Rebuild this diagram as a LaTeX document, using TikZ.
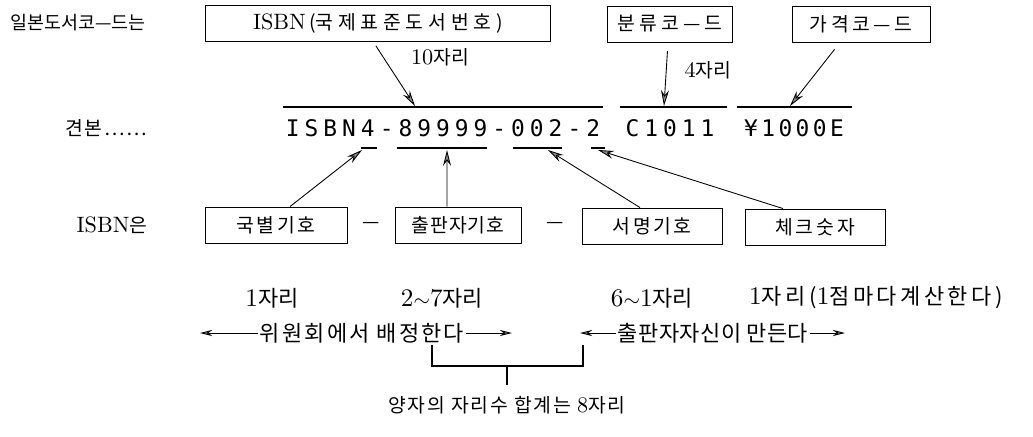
\documentclass[tikz,border=0pt]{standalone}
\usepackage{fontspec}
\newfontfamily\kr{Noto Sans CJK KR}
\newfontfamily\lmr[Scale=1.15]{lmroman10-regular.otf}
\newfontfamily\ocr[LetterSpace=22]{DejaVu Sans Mono}
\usetikzlibrary{arrows.meta}
\newcommand\lm[1]{{\lmr #1}}

\begin{document}
\begin{tikzpicture}[x=0.02cm, y=-0.02cm,
  lbl/.style={font=\kr\fontsize{11}{13}\selectfont, inner sep=1pt},
  wide/.style={font=\kr\fontsize{11}{13}\selectfont\addfontfeatures{LetterSpace=#1}},
  big/.style={font=\kr\fontsize{12.5}{15}\selectfont\addfontfeatures{LetterSpace=#1}, inner sep=1pt},
  kbox/.style={lbl, draw, line width=0.5pt, minimum height=0.72cm},
  code/.style={font=\ocr\fontsize{13}{15}\selectfont, inner sep=0pt},
  arr/.style={line width=0.5pt, -{Stealth[length=9pt, width=4.5pt, fill=black!45]}},
  sarr/.style={line width=0.5pt, -{Stealth[length=7pt, width=3.5pt, fill=black!45]}},
  rule/.style={line width=0.6pt}]
\useasboundingbox (0,0) rectangle (1033,436);

% top row
\node[lbl, font=\kr\fontsize{10.5}{13}\selectfont] (lead) at (78,23) {일본도서코—드는};
\node[kbox, minimum width=6.9cm] (isbnbox) at (378,23) {\lm{ISBN}\,(\addfontfeatures{LetterSpace=25}국제표준도서번호)};
\node[kbox, minimum width=2.5cm, wide=22] (class) at (670,24) {분류코—드};
\node[kbox, minimum width=2.76cm, wide=18] (price) at (861,24) {가격코—드};
\node[lbl] (ten) at (440,57) {\lm{10}자리};
\node[lbl] (four) at (708,70) {\lm{4}자리};

% sample code
\node[lbl, wide=8] (sample) at (106,128) {견본……};
\node[code] (isbncode) at (443,128) {ISBN4-89999-002-2};
\node[code] (classcode) at (670,128) {C1011};
\node[code, font=\ocr\fontsize{13}{15}\selectfont\addfontfeatures{LetterSpace=15}] (pricecode) at (794,128) {¥1000E};
\draw[rule] (283,107) -- (603,107);
\draw[rule] (620,107) -- (727,107);
\draw[rule] (737,107) -- (852,107);
\foreach \a/\b in {361/377, 397/487, 513/562, 591/605}
  \draw[rule] (\a,148) -- (\b,148);
\coordinate (isbnhit) at (415,106);
\coordinate (classhit) at (664,106);
\coordinate (pricehit) at (790,106);
\draw[arr, shorten <=3pt] ([xshift=-0.1cm]isbnbox.south) -- (isbnhit);
\draw[arr, shorten <=5pt] ([xshift=-0.04cm]class.south) -- (classhit);
\draw[arr, shorten <=5pt] ([xshift=-0.42cm]price.south) -- (pricehit);

% parts of the ISBN
\node[lbl] (isbnis) at (112,225) {\lm{ISBN}은};
\node[kbox, minimum width=2.84cm, wide=14] (nation) at (276,225) {국별기호};
\node[lbl] (dashA) at (371,225) {—};
\node[kbox, minimum width=2.52cm, wide=5] (pub) at (458,225) {출판자기호};
\node[lbl] (dashB) at (555,225) {—};
\node[kbox, minimum width=2.8cm, wide=12] (title) at (652,226) {서명기호};
\node[kbox, minimum width=2.8cm, wide=15] (check) at (815,227) {체크숫자};
\coordinate (natmark) at (362,150);
\coordinate (pubmark) at (447,150);
\coordinate (titlemark) at (548,150);
\coordinate (digitmark) at (598,150);
\draw[arr] ([xshift=0.28cm]nation.north) -- (natmark);
\draw[arr] ([xshift=-0.22cm]pub.north) -- (pubmark);
\draw[arr] ([xshift=-0.24cm]title.north) -- (titlemark);
\draw[arr] ([xshift=-0.64cm]check.north) -- (digitmark);

% digits
\node[big=0] (n1) at (272,298) {\lm{1}자리};
\node[big=0] (n2) at (442,298) {\lm{2$\sim$7}자리};
\node[big=0] (n3) at (652,298) {\lm{6$\sim$1}자리};
\node[big=16] (n4) at (876,298) {\lm{1}자리\,(\lm{1}점마다계산한다)};

\node[big=10] (assign) at (362,333) {위원회에서 배정한다};
\coordinate (assignL) at (200,333);
\coordinate (assignR) at (512,333);
\draw[sarr] (assign.west) -- (assignL);
\draw[sarr] (assign.east) -- (assignR);
\node[big=2] (self) at (713,333) {출판자자신이 만든다};
\coordinate (selfL) at (580,333);
\coordinate (selfR) at (845,333);
\draw[sarr] (self.west) -- (selfL);
\draw[sarr] (self.east) -- (selfR);

% sum bracket
\coordinate (brL) at (432,345);
\coordinate (brR) at (583,345);
\coordinate (brmid) at (507,366);
\draw[rule] (brL) -- ++(0,21) -| (brR);
\node[lbl, wide=9] (sum) at (507,405) {양자의 자리수 합계는 \lm{8}자리};
\draw[rule, shorten >=5pt] (brmid) -- (sum.north);
\end{tikzpicture}
\end{document}
